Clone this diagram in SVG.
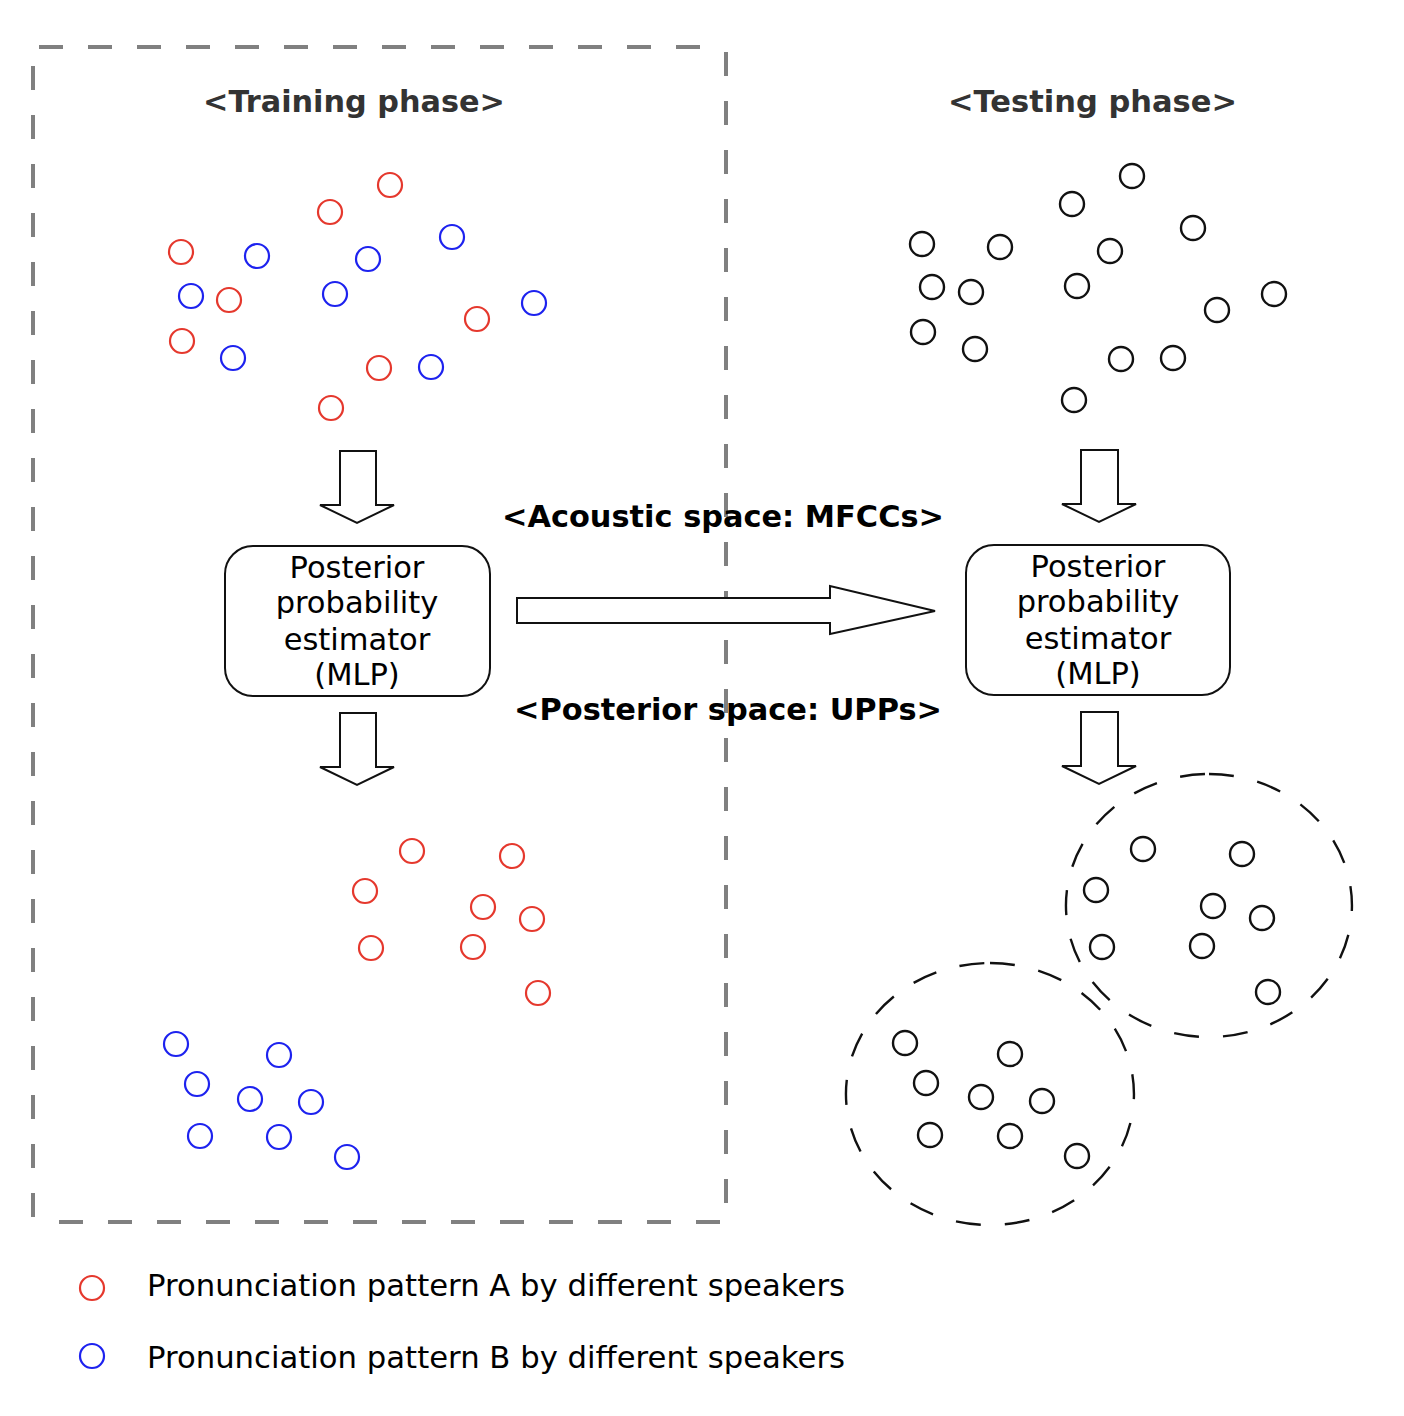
<svg xmlns="http://www.w3.org/2000/svg" width="1404" height="1416" viewBox="0 0 1404 1416">
<style>
.frame{stroke:#808080;stroke-width:4;fill:none;stroke-dasharray:24 25}
.r{fill:none;stroke:#e5382d;stroke-width:2.2}
.b{fill:none;stroke:#1d22ef;stroke-width:2.2}
.k{fill:none;stroke:#111;stroke-width:2.4}
.cl{fill:none;stroke:#111;stroke-width:2.4;stroke-dasharray:25 24}
.box{fill:#fff;stroke:#111;stroke-width:2}
.arr{fill:#fff;stroke:#111;stroke-width:2;stroke-linejoin:miter}
.t{font-family:"DejaVu Sans",sans-serif;font-size:30.5px;fill:#000;text-anchor:middle}
.h{font-family:"DejaVu Sans",sans-serif;font-size:31px;font-weight:bold;fill:#333;text-anchor:middle}
.s{font-family:"DejaVu Sans",sans-serif;font-size:30.5px;font-weight:bold;fill:#000;text-anchor:middle}
.lg{font-family:"DejaVu Sans",sans-serif;font-size:30.7px;fill:#000}
</style>
<rect width="1404" height="1416" fill="#fff"/>
<g id="training-frame">
<path class="frame" d="M39,47 H707"/>
<path class="frame" d="M726,52 V1212"/>
<path class="frame" d="M33,66 V1225"/>
<path class="frame" d="M59,1222 H720"/>
</g>
<g id="titles">
<text class="h" x="354" y="112" textLength="302" lengthAdjust="spacingAndGlyphs">&lt;Training phase&gt;</text>
<text class="h" x="1092.5" y="112" textLength="289" lengthAdjust="spacingAndGlyphs">&lt;Testing phase&gt;</text>
<text class="s" x="723" y="527" textLength="442" lengthAdjust="spacingAndGlyphs">&lt;Acoustic space: MFCCs&gt;</text>
<text class="s" x="728" y="720" textLength="428" lengthAdjust="spacingAndGlyphs">&lt;Posterior space: UPPs&gt;</text>
</g>
<g id="training-acoustic">
<circle class="r" cx="390" cy="185" r="12"/>
<circle class="r" cx="330" cy="212" r="12"/>
<circle class="r" cx="181" cy="252" r="12"/>
<circle class="r" cx="229" cy="300" r="12"/>
<circle class="r" cx="182" cy="341" r="12"/>
<circle class="r" cx="477" cy="319" r="12"/>
<circle class="r" cx="379" cy="368" r="12"/>
<circle class="r" cx="331" cy="408" r="12"/>
<circle class="b" cx="257" cy="256" r="12"/>
<circle class="b" cx="368" cy="259" r="12"/>
<circle class="b" cx="452" cy="237" r="12"/>
<circle class="b" cx="191" cy="296" r="12"/>
<circle class="b" cx="335" cy="294" r="12"/>
<circle class="b" cx="534" cy="303" r="12"/>
<circle class="b" cx="233" cy="358" r="12"/>
<circle class="b" cx="431" cy="367" r="12"/>
</g>
<g id="training-posterior">
<circle class="r" cx="412" cy="851" r="12"/>
<circle class="r" cx="512" cy="856" r="12"/>
<circle class="r" cx="365" cy="891" r="12"/>
<circle class="r" cx="483" cy="907" r="12"/>
<circle class="r" cx="532" cy="919" r="12"/>
<circle class="r" cx="371" cy="948" r="12"/>
<circle class="r" cx="473" cy="947" r="12"/>
<circle class="r" cx="538" cy="993" r="12"/>
<circle class="b" cx="176" cy="1044" r="12"/>
<circle class="b" cx="279" cy="1055" r="12"/>
<circle class="b" cx="197" cy="1084" r="12"/>
<circle class="b" cx="250" cy="1099" r="12"/>
<circle class="b" cx="311" cy="1102" r="12"/>
<circle class="b" cx="200" cy="1136" r="12"/>
<circle class="b" cx="279" cy="1137" r="12"/>
<circle class="b" cx="347" cy="1157" r="12"/>
</g>
<g id="testing-acoustic">
<circle class="k" cx="1132" cy="176" r="12"/>
<circle class="k" cx="1072" cy="204" r="12"/>
<circle class="k" cx="1193" cy="228" r="12"/>
<circle class="k" cx="922" cy="244" r="12"/>
<circle class="k" cx="1000" cy="247" r="12"/>
<circle class="k" cx="1110" cy="251" r="12"/>
<circle class="k" cx="932" cy="287" r="12"/>
<circle class="k" cx="971" cy="292" r="12"/>
<circle class="k" cx="1077" cy="286" r="12"/>
<circle class="k" cx="1274" cy="294" r="12"/>
<circle class="k" cx="1217" cy="310" r="12"/>
<circle class="k" cx="923" cy="332" r="12"/>
<circle class="k" cx="975" cy="349" r="12"/>
<circle class="k" cx="1121" cy="359" r="12"/>
<circle class="k" cx="1173" cy="358" r="12"/>
<circle class="k" cx="1074" cy="400" r="12"/>
</g>
<g id="testing-posterior">
<path class="cl" d="M1209,774 A143,131.5 0 1,1 1208.9,774 Z"/>
<circle class="k" cx="1143" cy="849" r="12"/>
<circle class="k" cx="1242" cy="854" r="12"/>
<circle class="k" cx="1096" cy="890" r="12"/>
<circle class="k" cx="1213" cy="906" r="12"/>
<circle class="k" cx="1262" cy="918" r="12"/>
<circle class="k" cx="1102" cy="947" r="12"/>
<circle class="k" cx="1202" cy="946" r="12"/>
<circle class="k" cx="1268" cy="992" r="12"/>
<path class="cl" d="M990,963 A144,131 0 1,1 989.9,963 Z"/>
<circle class="k" cx="905" cy="1043" r="12"/>
<circle class="k" cx="1010" cy="1054" r="12"/>
<circle class="k" cx="926" cy="1083" r="12"/>
<circle class="k" cx="981" cy="1097" r="12"/>
<circle class="k" cx="1042" cy="1101" r="12"/>
<circle class="k" cx="930" cy="1135" r="12"/>
<circle class="k" cx="1010" cy="1136" r="12"/>
<circle class="k" cx="1077" cy="1156" r="12"/>
</g>
<g id="mlp-training">
<rect class="box" x="225" y="546" width="265" height="150" rx="28"/>
<text class="t" x="357" y="578">Posterior</text>
<text class="t" x="357" y="613">probability</text>
<text class="t" x="357" y="650">estimator</text>
<text class="t" x="357" y="685">(MLP)</text>
</g>
<g id="mlp-testing">
<rect class="box" x="966" y="545" width="264" height="150" rx="28"/>
<text class="t" x="1098" y="577">Posterior</text>
<text class="t" x="1098" y="612">probability</text>
<text class="t" x="1098" y="649">estimator</text>
<text class="t" x="1098" y="684">(MLP)</text>
</g>
<g id="connectors">
<path class="arr" d="M340,451 H376 V505 H394 L357,523 L320,505 H340 Z"/>
<path class="arr" d="M340,713 H376 V767 H394 L357,785 L320,767 H340 Z"/>
<path class="arr" d="M1081,450 H1118 V504 H1136 L1099,522 L1062,504 H1081 Z"/>
<path class="arr" d="M1081,712 H1118 V766 H1136 L1099,784 L1062,766 H1081 Z"/>
<path class="arr" d="M517,598 H830 V586 L935,611 L830,634 V623 H517 Z"/>
</g>
<g id="legend">
<circle class="r" cx="92" cy="1288" r="12"/>
<text class="lg" x="147" y="1296" textLength="698" lengthAdjust="spacingAndGlyphs">Pronunciation pattern A by different speakers</text>
<circle class="b" cx="92" cy="1356" r="12"/>
<text class="lg" x="147" y="1368" textLength="698" lengthAdjust="spacingAndGlyphs">Pronunciation pattern B by different speakers</text>
</g>
</svg>
